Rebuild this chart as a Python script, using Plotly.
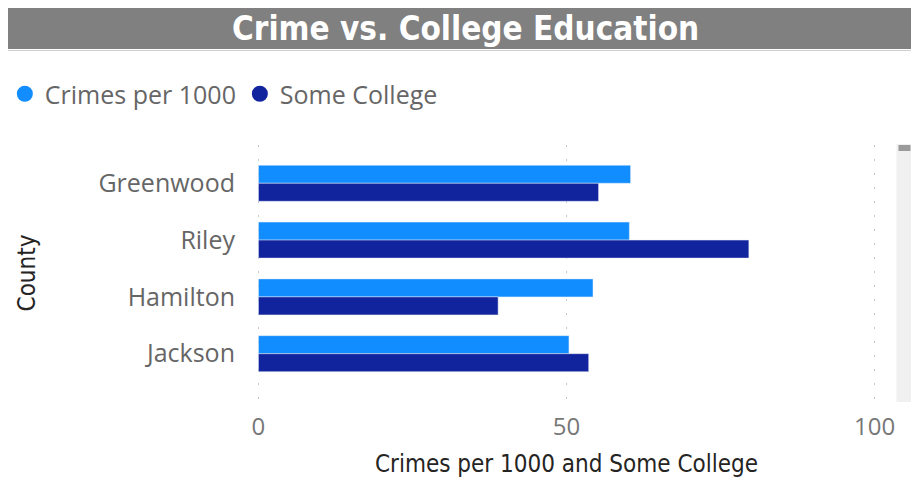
import plotly.graph_objects as go

counties = ["Greenwood", "Riley", "Hamilton", "Jackson"]
crimes_per_1000 = [60.4, 60.2, 54.3, 50.4]
some_college = [55.2, 79.6, 38.9, 53.6]
x_ticks = [0, 50, 100]

C1 = "#118DFF"
C2 = "#12239E"
DIN = "DejaVu Sans Condensed, Liberation Sans Narrow, sans-serif"
SEGOE = "Open Sans, Noto Sans, sans-serif"

# page has an 8px body margin; the figure is sized so the page fits the window
OFF = 8
W, H = 919 - OFF, 483 - OFF
X_LO, X_HI = -0.4, 100.4
PPU = (875 - 258) / 100.0
L = 258 + X_LO * PPU          # page x of left plot edge
R = 875 + (X_HI - 100) * PPU  # page x of right plot edge
T, B = 145, 401               # page y of plot top / bottom


def px_x(x):
    return (x - L) / (R - L)


def px_y(y):
    return (B - y) / (B - T)


fig = go.Figure()
fig.add_trace(go.Bar(y=counties, x=crimes_per_1000, orientation="h", name="Crimes per 1000",
                     marker_color=C1, showlegend=False))
fig.add_trace(go.Bar(y=counties, x=some_college, orientation="h", name="Some College",
                     marker_color=C2, showlegend=False))
# legend entries with circle symbols
fig.add_trace(go.Scatter(x=[None], y=[None], mode="markers", name="Crimes per 1000",
                         marker=dict(color=C1, size=16, symbol="circle")))
fig.add_trace(go.Scatter(x=[None], y=[None], mode="markers", name="Some College",
                         marker=dict(color=C2, size=16, symbol="circle")))

fig.update_layout(
    width=W, height=H,
    margin=dict(l=L - OFF, r=(919 - R), t=T - OFF, b=(483 - B), pad=0, autoexpand=False),
    paper_bgcolor="white", plot_bgcolor="white",
    barmode="group", bargap=0.366, bargroupgap=0,
    showlegend=True,
    legend=dict(orientation="h", x=px_x(4), y=px_y(71), xanchor="left", yanchor="top",
                xref="paper", yref="paper",
                font=dict(family=SEGOE, size=25, color="#666666"),
                entrywidth=190, entrywidthmode="pixels", itemclick=False,
                bgcolor="rgba(0,0,0,0)", tracegroupgap=0),
    xaxis=dict(range=[X_LO, X_HI], tickvals=x_ticks, ticktext=[str(v) for v in x_ticks],
               showgrid=True, gridcolor="#c8c8c8", griddash="2px,12px", gridwidth=1,
               zeroline=False, showline=False, ticks="", automargin=False,
               ticklabelstandoff=9,
               tickfont=dict(family=SEGOE, size=24, color="#777777"),
               title=dict(text="Crimes per 1000 and Some College", standoff=14,
                          font=dict(family=DIN, size=24, color="#252423"))),
    yaxis=dict(categoryorder="array", categoryarray=counties,
               range=[3.833, -0.674], showgrid=False, zeroline=False, showline=False,
               ticks="", ticklabelstandoff=20, automargin=False,
               tickfont=dict(family=SEGOE, size=25, color="#666666"),
               title=dict(text="County", standoff=56,
                          font=dict(family=DIN, size=24, color="#252423"))),
)

# title bar
fig.add_shape(type="rect", xref="paper", yref="paper",
              x0=px_x(4), x1=px_x(913), y0=px_y(49), y1=px_y(4),
              fillcolor="#808080", line_width=0, layer="below")
fig.add_shape(type="line", xref="paper", yref="paper",
              x0=px_x(4), x1=px_x(913), y0=px_y(50.5), y1=px_y(50.5),
              line=dict(color="#d0d0d0", width=1))
fig.add_annotation(text="<b>Crime vs. College Education</b>", xref="paper", yref="paper",
                   x=px_x(465), y=px_y(28), xanchor="center", yanchor="middle",
                   showarrow=False, font=dict(family=DIN, size=33, color="white"))

# scrollbar
fig.add_shape(type="rect", xref="paper", yref="paper",
              x0=px_x(897), x1=px_x(912), y0=px_y(402), y1=px_y(144),
              fillcolor="#f0f0f0", line_width=0)
fig.add_shape(type="rect", xref="paper", yref="paper",
              x0=px_x(899), x1=px_x(911), y0=px_y(151), y1=px_y(145),
              fillcolor="#9a9a9a", line_width=0)

fig.write_html("out.html")
